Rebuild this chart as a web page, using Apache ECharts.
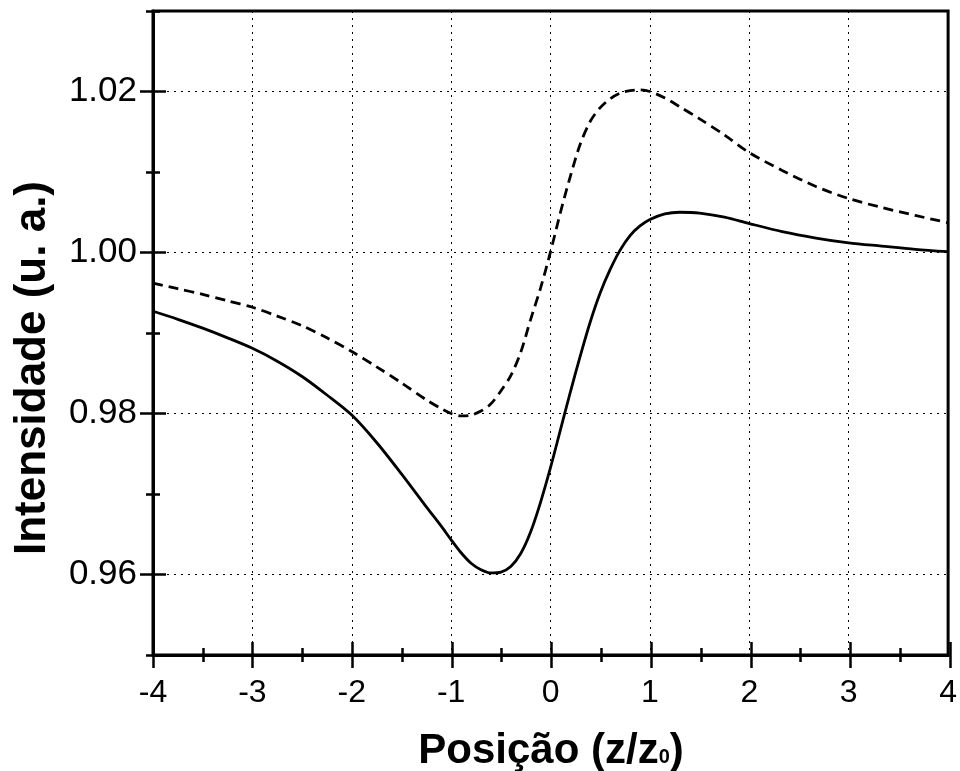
<!DOCTYPE html>
<html>
<head>
<meta charset="utf-8">
<script src="https://cdn.jsdelivr.net/npm/echarts@6/dist/echarts.min.js"></script>
<style>html,body{margin:0;padding:0;background:#fff}#c{width:960px;height:771px}</style>
</head>
<body>
<div id="c"></div>
<script>
// Solid curve
var solidX = [-4, -3.75, -3.5, -3.25, -3, -2.75, -2.5, -2.25, -2, -1.75, -1.5, -1.25, -1.1, -1.0, -0.9, -0.8, -0.7, -0.6, -0.5, -0.4, -0.3, -0.2, -0.1, 0, 0.1, 0.2, 0.3, 0.4, 0.5, 0.6, 0.7, 0.8, 0.9, 1.0, 1.15, 1.3, 1.5, 1.75, 2.0, 2.33, 2.67, 3.0, 3.33, 3.67, 4.0];
var solidY = [0.9927, 0.9917, 0.9906, 0.9894, 0.9881, 0.9865, 0.9846, 0.9823, 0.9798, 0.9764, 0.9725, 0.9684, 0.9660, 0.9643, 0.9627, 0.9614, 0.9606, 0.9602, 0.9603, 0.9610, 0.9626, 0.9653, 0.9690, 0.9733, 0.9780, 0.9827, 0.9872, 0.9914, 0.9950, 0.9979, 1.0003, 1.0021, 1.0033, 1.0041, 1.0048, 1.0050, 1.0049, 1.0044, 1.0036, 1.0026, 1.0018, 1.0012, 1.0008, 1.0004, 1.0001];
// Dashed curve
var dashX = [-4, -3.75, -3.5, -3.25, -3, -2.75, -2.5, -2.25, -2, -1.75, -1.5, -1.25, -1.1, -1.0, -0.9, -0.8, -0.7, -0.6, -0.5, -0.4, -0.3, -0.2, -0.1, 0, 0.1, 0.2, 0.3, 0.4, 0.5, 0.6, 0.7, 0.8, 0.9, 1.0, 1.15, 1.3, 1.5, 1.75, 2.0, 2.33, 2.67, 3.0, 3.33, 3.67, 4.0];
var dashY = [0.9962, 0.9955, 0.9948, 0.9940, 0.9932, 0.9921, 0.9909, 0.9894, 0.9877, 0.9858, 0.9838, 0.9817, 0.9806, 0.9800, 0.9797, 0.9798, 0.9803, 0.9812, 0.9828, 0.9847, 0.9876, 0.9917, 0.9956, 1.0001, 1.0050, 1.0095, 1.0135, 1.0163, 1.0180, 1.0191, 1.0198, 1.0201, 1.0202, 1.0200, 1.0192, 1.0181, 1.0166, 1.0146, 1.0124, 1.0102, 1.0082, 1.0067, 1.0056, 1.0046, 1.0037];
// Tick values
var yMajor = [0.96, 0.98, 1.00, 1.02];
var xTitle = 'Posição (z/z';
var xTitleSub = '0';
var yTitle = 'Intensidade (u. a.)';

function pairs(xs, ys){ return xs.map(function(x,i){ return [x, ys[i]]; }); }

var FONT = 'Liberation Sans, Arial, sans-serif';
var tickStyle = {color:'#000', width:2.5};
var G = {left:153, right:10, top:11, bottom:116};

function grid(i, extra){
  var g = {left:G.left, right:G.right, top:G.top, bottom:G.bottom};
  if (extra) for (var k in extra) g[k] = extra[k];
  return g;
}
function xAx(gi, opts){
  var base = {gridIndex:gi, type:'value', min:-4, max:4, interval:1, position:'bottom', offset:0,
    axisLine:{show:false, onZero:false}, axisLabel:{show:false}, splitLine:{show:false}, axisTick:{show:false}};
  for (var k in opts) base[k] = opts[k];
  return base;
}
function yAx(gi, opts){
  var base = {gridIndex:gi, type:'value', min:0.95, max:1.03, interval:0.01, position:'left', offset:0,
    axisLine:{show:false, onZero:false}, axisLabel:{show:false}, splitLine:{show:false}, axisTick:{show:false}};
  for (var k in opts) base[k] = opts[k];
  return base;
}

var chart = echarts.init(document.getElementById('c'), null, {renderer:'canvas'});
chart.setOption({
  animation:false,
  backgroundColor:'#fff',
  grid:[
    grid(0, {show:true, borderColor:'#000', borderWidth:3, backgroundColor:'transparent'}),
    grid(1), grid(2)
  ],
  xAxis:[
    xAx(0, {axisLine:{show:true, onZero:false, lineStyle:{color:'#000', width:3}},
            axisLabel:{show:true, margin:22, fontSize:32, color:'#000', fontFamily:FONT},
            splitLine:{show:true, lineStyle:{color:'#000', width:1, type:[2,5]}}}),
    // major crossing ticks: axis shifted into the plot, ticks pointing out across the axis line
    xAx(1, {offset:-13, axisTick:{show:true, inside:false, length:26, lineStyle:tickStyle}}),
    // minor crossing ticks
    xAx(2, {interval:0.5, offset:-7, axisTick:{show:true, inside:false, length:14, lineStyle:tickStyle}})
  ],
  yAxis:[
    yAx(0, {axisLine:{show:true, onZero:false, lineStyle:{color:'#000', width:3}},
            axisLabel:{show:true, customValues:yMajor, margin:16, fontSize:35, color:'#000', fontFamily:FONT,
                       formatter:function(v){ return (+v).toFixed(2); }},
            splitLine:{show:true, lineStyle:{color:['rgba(0,0,0,0)','#000'], width:1, type:[2,5]}}}),
    yAx(1, {offset:-13, axisTick:{show:true, inside:false, length:26, lineStyle:tickStyle, customValues:yMajor}}),
    yAx(2, {offset:-7, axisTick:{show:true, inside:false, length:14, lineStyle:tickStyle}})
  ],
  series:[
    {type:'line', xAxisIndex:0, yAxisIndex:0, data:pairs(dashX, dashY), showSymbol:false, smooth:0.3,
     lineStyle:{color:'#000', width:2.8, type:[10,6]}},
    {type:'line', xAxisIndex:0, yAxisIndex:0, data:pairs(solidX, solidY), showSymbol:false, smooth:0.3,
     lineStyle:{color:'#000', width:2.8}}
  ],
  graphic:[
    {type:'text', x:551, y:748,
     style:{text:'{a|'+xTitle+'}{s|'+xTitleSub+'}{a|)}', x:0, y:0, align:'center', verticalAlign:'middle',
            rich:{a:{fontFamily:FONT, fontWeight:'bold', fontSize:42, fill:'#000', lineHeight:48, verticalAlign:'bottom'},
                  s:{fontFamily:FONT, fontWeight:'bold', fontSize:20, fill:'#000', lineHeight:48, verticalAlign:'bottom', padding:[0,0,5,0]}}}},
    {type:'text', x:33, y:368, rotation:Math.PI/2,
     style:{text:yTitle, x:0, y:0, align:'center', verticalAlign:'middle', fontFamily:FONT, fontWeight:'bold', fontSize:44, fill:'#000'}}
  ]
});
</script>
</body>
</html>
